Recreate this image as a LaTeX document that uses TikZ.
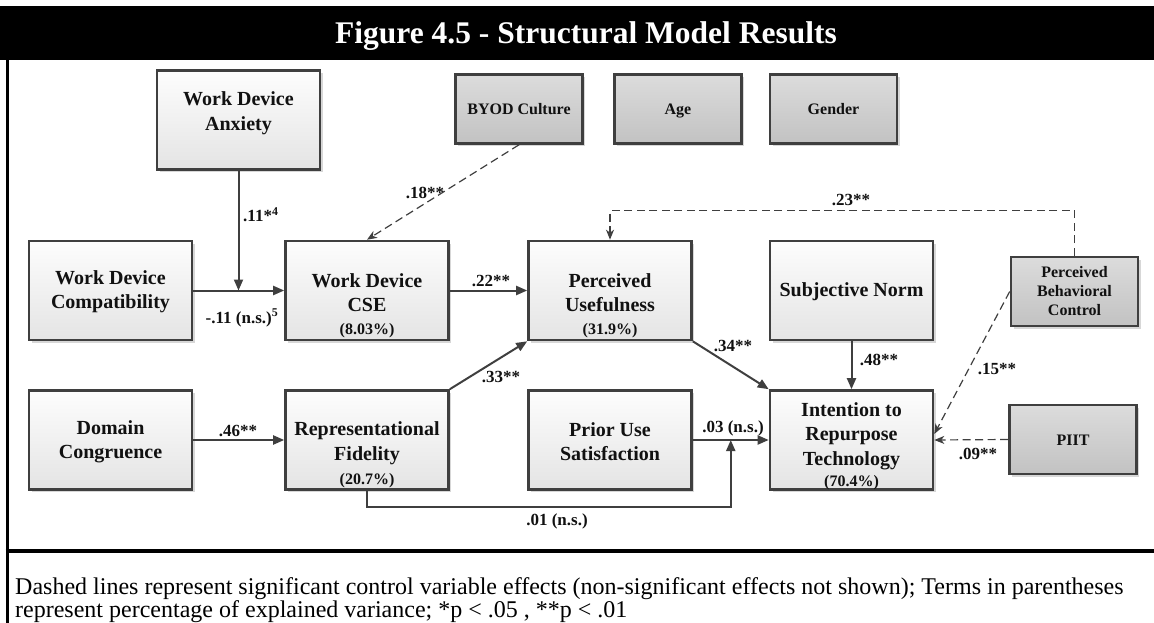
\documentclass[tikz,border=0pt]{standalone}
\usepackage{fontspec}
\setmainfont{Liberation Serif}
\usetikzlibrary{arrows.meta,shadows,calc}

\definecolor{edgegray}{HTML}{3F3F3F}
\definecolor{inktext}{HTML}{111111}
\definecolor{lighttop}{HTML}{FDFDFD}
\definecolor{lightbot}{HTML}{E4E4E4}
\definecolor{darktop}{HTML}{DCDCDC}
\definecolor{darkbot}{HTML}{C2C2C2}

\newcommand\pctfont{\fontsize{16}{19}\selectfont}

\begin{document}
\begin{tikzpicture}[x=1pt,y=-1pt,
  boxshadow/.style={drop shadow={shadow xshift=2.5pt,shadow yshift=-2.5pt,opacity=0.35,fill=black!45}},
  mainbox/.style={draw=edgegray,line width=2.6pt,top color=lighttop,bottom color=lightbot,
     minimum width=163pt,minimum height=99pt,inner sep=0pt,boxshadow},
  boxtext/.style={inner sep=0pt,align=center,text=inktext,
     font=\bfseries\fontsize{20}{24.5}\selectfont},
  ctlbox/.style={draw=edgegray,line width=2.6pt,top color=darktop,bottom color=darkbot,
     minimum width=127pt,minimum height=69pt,inner sep=2pt,align=center,text=inktext,
     font=\bfseries\fontsize{16}{19}\selectfont,boxshadow},
  ctlone/.style={ctlbox,text height=12.5pt,text depth=1.5pt},
  pct/.style={inner sep=0pt,text=inktext,font=\bfseries\pctfont},
  lbl/.style={inner sep=1pt,text=inktext,font=\bfseries\fontsize{17}{20}\selectfont},
  conn/.style={draw=edgegray,line width=2pt,-{Triangle[length=11pt,width=9pt]}},
  dconn/.style={draw=edgegray,line width=1.2pt,dash pattern=on 8pt off 4.5pt,
     -{Stealth[length=10pt,width=8pt,inset=3pt]}},
  capt/.style={inner sep=0pt,anchor=base west,font=\fontsize{24}{27}\selectfont},
]
\useasboundingbox (0,0) rectangle (1154,623);

% title bar and frame
\fill[black] (0,6) rectangle (1154,60);
\node[anchor=base east,inner sep=0pt,text=white,font=\bfseries\fontsize{31.5}{36}\selectfont]
  (title) at (837,44) {Figure 4.5 - Structural Model Results};
\draw[line width=3pt] (7,60) -- (7,623);
\draw[line width=3.5pt] (5.5,551) -- (1154,551);

% construct boxes
\node[mainbox] (wda) at (238.5,120) {};
\node[mainbox] (wdc) at (110.5,290.5) {};
\node[mainbox] (cse) at (367,290.5) {};
\node[mainbox] (pu)  at (610,290.5) {};
\node[mainbox] (sn)  at (851.5,290.5) {};
\node[mainbox] (dc)  at (110.5,440) {};
\node[mainbox] (rf)  at (367,440) {};
\node[mainbox] (pus) at (610,440) {};
\node[mainbox] (itr) at (851.5,440) {};

% construct names
\node[boxtext] (wdat) at ([yshift=7pt]wda.center) {Work Device\\Anxiety};
\node[boxtext] (wdct) at ([yshift=-1pt]wdc.center) {Work Device\\Compatibility};
\node[boxtext] (cset) at ([yshift=-2pt]cse.center) {Work Device\\CSE};
\node[boxtext] (put)  at ([yshift=-2pt]pu.center) {Perceived\\Usefulness};
\node[boxtext] (snt)  at ([yshift=-1pt]sn.center) {Subjective Norm};
\node[boxtext] (dct)  at ([yshift=-2pt]dc.center) {Domain\\Congruence};
\node[boxtext] (rft)  at ([yshift=-3pt]rf.center) {Representational\\Fidelity};
\node[boxtext] (pust) at ([yshift=-1.5pt]pus.center) {Prior Use\\Satisfaction};
\node[boxtext] (itrt) at ([yshift=4pt]itr.center) {Intention to\\Repurpose\\Technology};

% explained variance
\node[pct] (csep) at ([yshift=11pt]cse.south) {(8.03\%)};
\node[pct] (pup)  at ([yshift=11pt]pu.south) {(31.9\%)};
\node[pct] (rfp)  at ([yshift=10pt]rf.south) {(20.7\%)};
\node[pct] (itrp) at ([yshift=8.5pt]itr.south) {(70.4\%)};

% control variables
\node[ctlone] (byod) at (519,109) {BYOD Culture};
\node[ctlone] (age)  at (678,109) {Age};
\node[ctlone] (gen)  at (833.5,109) {Gender};
\node[ctlbox] (pbc)  at (1074.5,291.5) {Perceived\\Behavioral\\Control};
\node[ctlone] (piit) at (1073,439.5) {PIIT};

% structural paths
\coordinate (jmod) at (wda.south |- wdc.east);
\coordinate (jrf) at ($(pus.east)!0.5!(itr.west)$);
\draw[conn] (wdc.east) -- (cse.west);
\draw[conn] (wda.south) -- (jmod);
\draw[conn] (cse.east) -- (pu.west);
\draw[conn] (dc.east) -- (rf.west);
\draw[conn] (rf.north east) -- (pu.south west);
\draw[conn] (pu.south east) -- (itr.north west);
\draw[conn] (sn.south) -- (itr.north);
\draw[conn] (pus.east) -- (itr.west);
\draw[conn] (rf.south) -- ++(0,16) -| (jrf);

% control paths
\draw[dconn] (byod.south) -- (cse.north);
\draw[dconn] (pbc.north) -- ++(0,-45) -| (pu.north);
\draw[dconn] (pbc.west) -- ([yshift=6pt]itr.east);
\draw[dconn] (piit.west) -- (itr.east);

% path coefficients
\node[lbl,anchor=west] (l11) at (242,215) {.11*\textsuperscript{4}};
\node[lbl] (lm11) at (242,318) {-.11 (n.s.)\textsuperscript{5}};
\node[lbl] (l18) at (425,193) {.18**};
\node[lbl] (l22) at (491,281) {.22**};
\node[lbl] (l33) at (501,377) {.33**};
\node[lbl] (l46) at (238,431) {.46**};
\node[lbl] (l34) at (733,346) {.34**};
\node[lbl] (l48) at (879,360) {.48**};
\node[lbl] (l03) at (733,428) {.03 (n.s.)};
\node[lbl] (l01) at (557,521) {.01 (n.s.)};
\node[lbl] (l23) at (851,200) {.23**};
\node[lbl] (l15) at (997,369) {.15**};
\node[lbl] (l09) at (978,454) {.09**};

% note
\node[capt] (cap1) at (15,594) {Dashed lines represent significant control variable effects (non-significant effects not shown); Terms in parentheses};
\node[capt] (cap2) at (15,617) {represent percentage of explained variance; *p < .05 , **p < .01};
\end{tikzpicture}
\end{document}
